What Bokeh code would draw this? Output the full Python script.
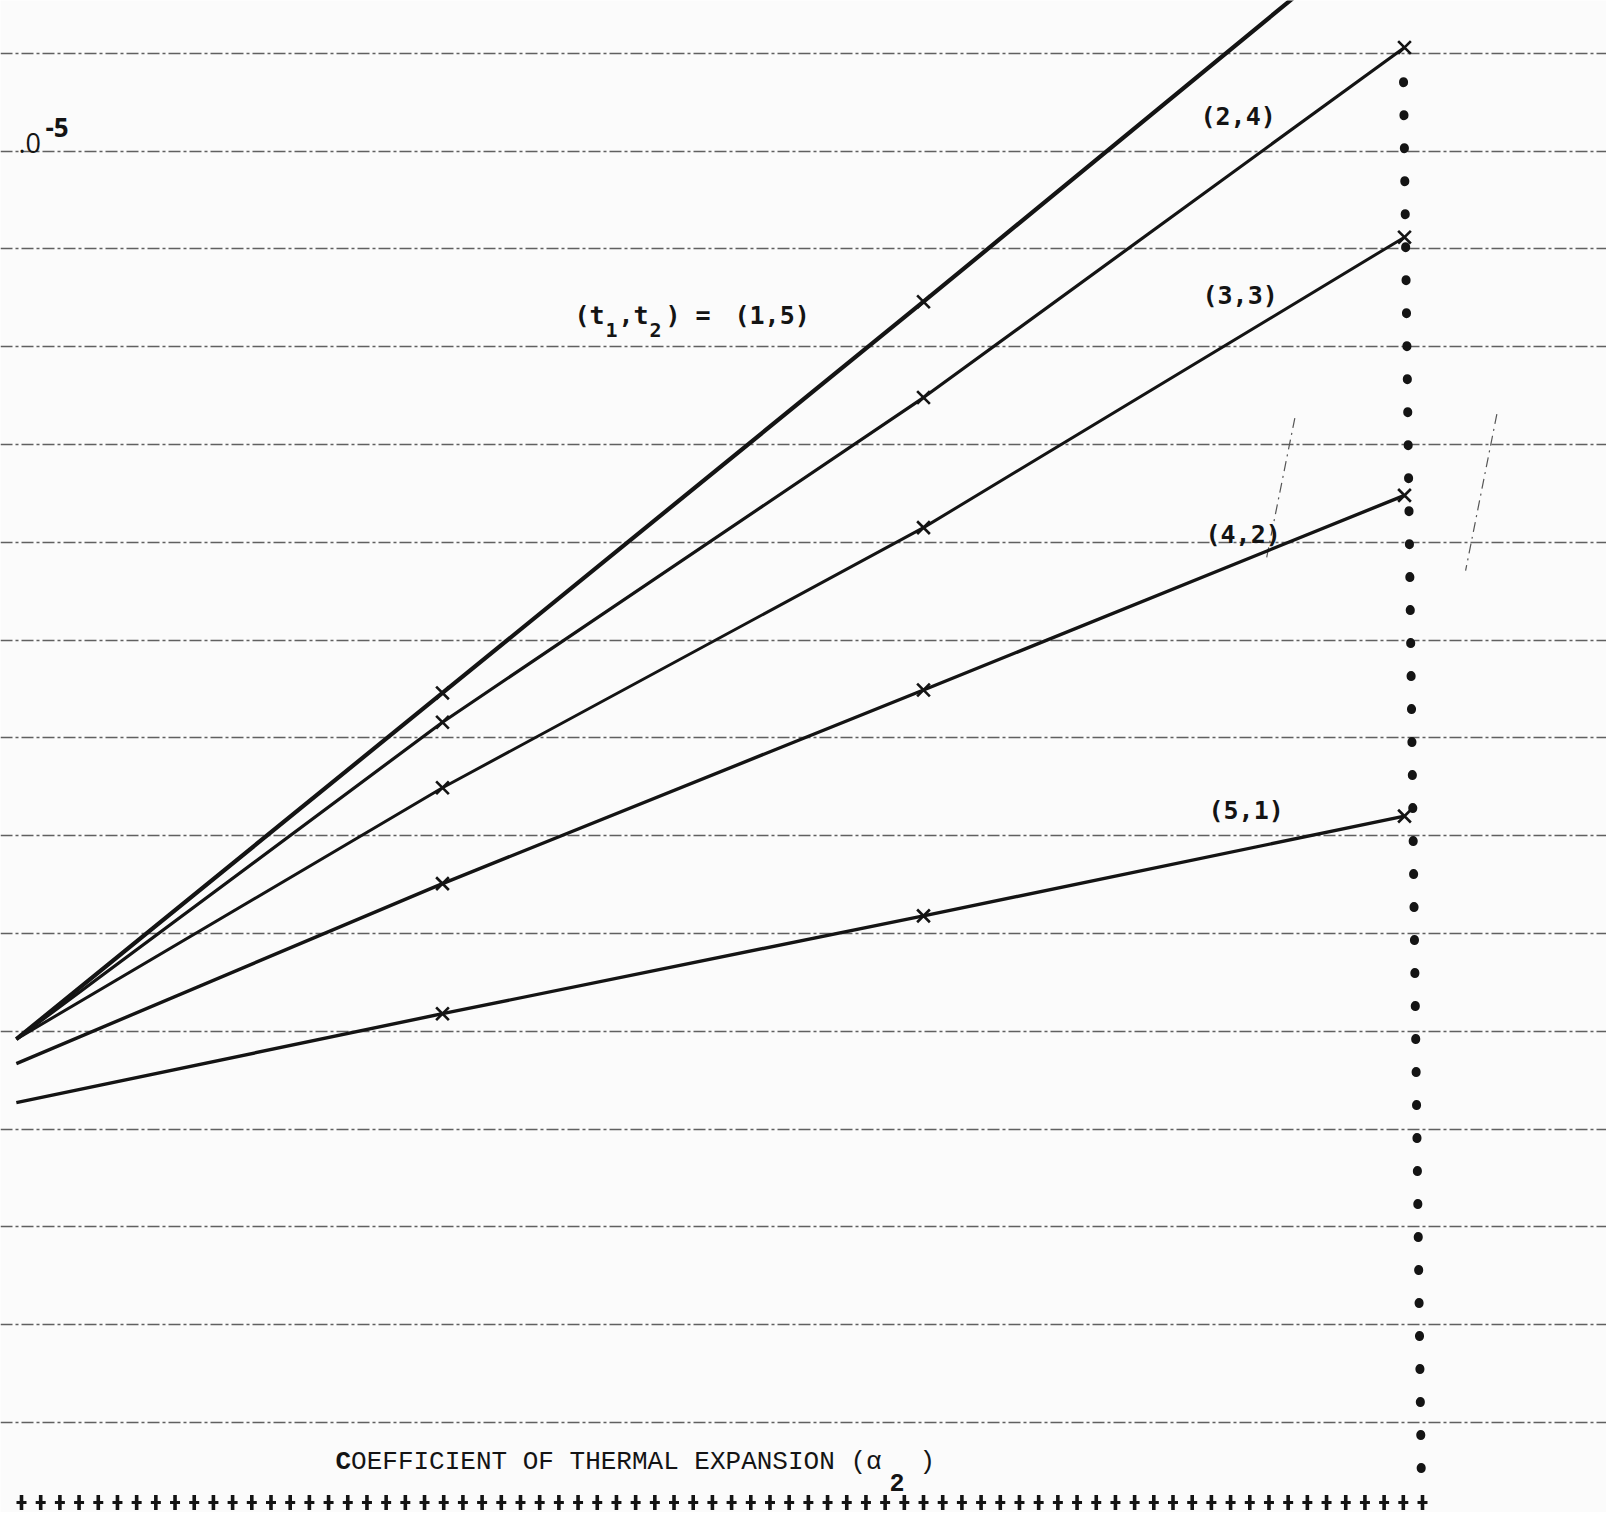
import numpy as np
from bokeh.plotting import figure
from bokeh.models import Range1d, FixedTicker, Grid
from bokeh.core.properties import value
from bokeh.embed import file_html
from bokeh.resources import INLINE

# ---------------- data ----------------
alpha2 = [0.114, 1.0, 2.0, 3.0]          # coefficient of thermal expansion (chart units)
y_15 = [4.92, 8.46, 12.46, 16.50]         # (t1,t2) = (1,5)  (last point runs off the top)
y_24 = [4.92, 8.16, 11.48, 15.06]         # (2,4)
y_33 = [4.92, 7.49, 10.15, 13.12]         # (3,3)
y_42 = [4.67, 6.51, 8.49, 10.48]          # (4,2)
y_51 = [4.27, 5.18, 6.18, 7.20]           # (5,1)
grid_levels = list(range(1, 16))          # ruled horizontal lines
ref_line_x = [2.998, 3.035]               # dotted vertical line
ref_line_y = [14.71, 0.41]
slash1_x = [2.772, 2.712]                 # faint construction strokes
slash1_y = [11.27, 9.81]
slash2_x = [3.192, 3.127]
slash2_y = [11.31, 9.71]
n_axis_marks = 74                         # "+" marks of the typed axis

# ---------------- layout ----------------
W, H = 1606, 1512
XR = (0.08108, 3.41996)
YR = (0.07975, 15.5399)


def fx(px):
    return XR[0] + px / W * (XR[1] - XR[0])


def fy(py):
    return YR[1] - py / H * (YR[1] - YR[0])


INK = "#141414"
BG = "#fbfbfb"

p = figure(width=W, height=H, x_range=Range1d(*XR), y_range=Range1d(*YR),
           output_backend="svg", toolbar_location=None,
           x_axis_location=None, y_axis_location=None, min_border=0,
           background_fill_color=BG, border_fill_color=BG,
           outline_line_color=None)
p.grid.visible = False

grid = Grid(dimension=1, ticker=FixedTicker(ticks=grid_levels),
            grid_line_color="#3a3a3a", grid_line_width=1.3,
            grid_line_dash="12 3 3 3", grid_line_alpha=0.8)
p.add_layout(grid)

# construction strokes
for sx, sy in ((slash1_x, slash1_y), (slash2_x, slash2_y)):
    p.line(sx, sy, line_color="#555555", line_width=1.2, line_dash="10 5 2 5")

# dotted reference line
p.line(ref_line_x, ref_line_y, line_color=INK, line_width=9,
       line_dash="1 32", line_cap="round")

# series
series = [(y_15, 4.2), (y_24, 3.2), (y_33, 3.0), (y_42, 3.4), (y_51, 3.4)]
for ys, lw in series:
    p.line(alpha2, ys, line_color=INK, line_width=lw)
    p.scatter(alpha2[1:], ys[1:], marker="x", size=18, line_width=2.6,
              line_color=INK)

# typed axis of "+" marks
plus_x = np.linspace(fx(21), fx(1422), n_axis_marks)
plus_y = np.full(n_axis_marks, fy(1502))
p.scatter(plus_x, plus_y, marker="dash", size=15, angle=np.pi / 2,
          line_width=3.6, line_color=INK)
p.scatter(plus_x, plus_y, marker="dash", size=10, line_width=3.0,
          line_color=INK)

MONO = value("DejaVu Sans Mono")


def put(txt, px, py, size, font=MONO, style="bold"):
    p.text([fx(px)], [fy(py)], text=[txt], text_font=font,
           text_font_size=f"{size}px", text_font_style=style,
           text_color=INK, text_align="left", text_baseline="middle")


# curve labels
put("(t", 574, 315, 25)
put("1", 605, 329, 20)
put(",t", 618, 315, 25)
put("2", 649, 329, 20)
put(")", 665, 315, 25)
put("=", 695, 315, 25)
put("(1,5)", 734, 315, 25)
put("(2,4)", 1200, 116, 25)
put("(3,3)", 1202, 295, 25)
put("(4,2)", 1205, 534, 25)
put("(5,1)", 1208, 810, 25)

# axis title
TYPE = value("Liberation Mono")
put("C", 335, 1461, 26, TYPE, "bold")
put("OEFFICIENT OF THERMAL EXPANSION (\u03b1", 350.6, 1461, 26, TYPE, "normal")
put("2", 889, 1482, 25, TYPE, "bold")
put(")", 919, 1461, 26, TYPE, "normal")

# scale note (cut off at the left edge)
SANS = value("Open Sans")
put(".0", 18, 142, 27, SANS, "normal")
put("-5", 45, 127, 26, SANS, "bold")

open("out.html", "w").write(file_html(p, INLINE))
